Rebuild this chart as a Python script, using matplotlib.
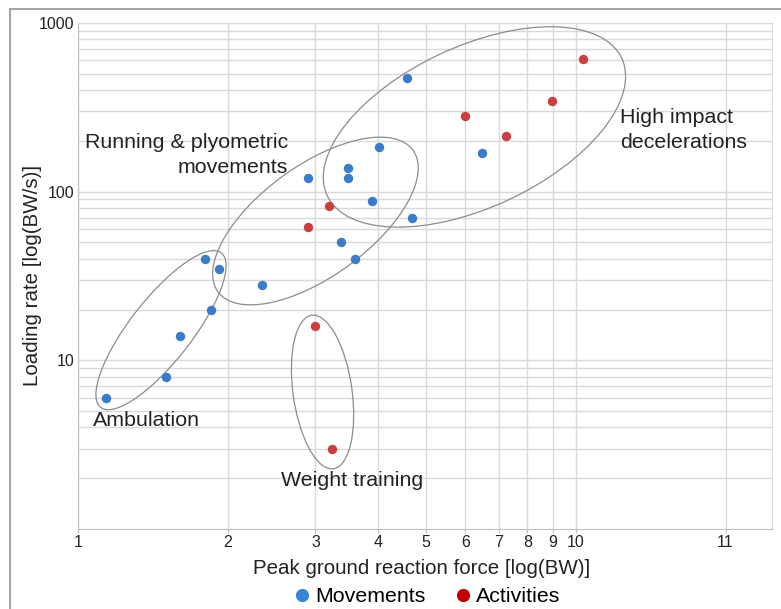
import matplotlib
matplotlib.use("Agg")
import matplotlib.pyplot as plt
import matplotlib.transforms as mtransforms
from matplotlib.patches import Ellipse, Rectangle
from matplotlib.lines import Line2D

plt.rcParams["font.family"] = ["Liberation Sans", "DejaVu Sans"]

# Peak ground reaction force (BW) and loading rate (BW/s)
movements_force = [1.14, 1.50, 1.60, 1.85, 1.80, 1.92, 2.34, 2.90, 3.49, 3.49,
                   4.02, 3.90, 3.38, 3.60, 4.59, 4.68, 6.48]
movements_rate = [6.0, 8.0, 14, 20, 40, 35, 28, 120, 139, 120,
                  184, 88, 50, 40, 474, 70, 170]

activities_force = [2.90, 3.19, 2.99, 3.24, 6.0, 7.25, 8.96, 10.34]
activities_rate = [62, 82, 16, 3.0, 282, 214, 346, 612]

x_ticks = [1, 2, 3, 4, 5, 6, 7, 8, 9, 10, 20]
x_tick_labels = ["1", "2", "3", "4", "5", "6", "7", "8", "9", "10", "11"]
y_ticks = [10, 100, 1000]
y_tick_labels = ["10", "100", "1000"]

# Group outlines: label, centre (force, rate), width/height in pixels, angle
groups = [
    ("Ambulation", (1.468, 15.1), 196, 62, 52),
    ("Running & plyometric movements", (3.0, 67), 241, 111, 36),
    ("High impact decelerations", (6.26, 242), 325, 161, 25),
    ("Weight training", (3.10, 6.49), 59, 155, 8),
]

BLUE = "#3b7cc8"
RED = "#c84040"
GRID = "#d9d9d9"
TEXT = "#222222"

W, H, DPI = 781, 609, 100
fig = plt.figure(figsize=(W / DPI, H / DPI), dpi=DPI)
ax = fig.add_axes([78 / W, 1 - 529 / H, (772 - 78) / W, (529 - 23) / H])

ax.set_xscale("log")
ax.set_yscale("log")
ax.set_xlim(1, 24.8)
ax.set_ylim(1, 1000)

ax.scatter(movements_force, movements_rate, s=46, color=BLUE, zorder=3,
           linewidths=0)
ax.scatter(activities_force, activities_rate, s=46, color=RED, zorder=3,
           linewidths=0)

# grid: vertical at labelled ticks, horizontal at every 1..9 per decade
ax.set_xticks(x_ticks)
ax.set_xticklabels(x_tick_labels)
ax.xaxis.set_minor_locator(matplotlib.ticker.NullLocator())
ax.set_yticks(y_ticks)
ax.set_yticklabels(y_tick_labels)
ax.yaxis.set_minor_locator(matplotlib.ticker.LogLocator(base=10, subs=range(2, 10)))
ax.yaxis.set_minor_formatter(matplotlib.ticker.NullFormatter())
ax.grid(True, which="major", color=GRID, linewidth=1.0)
ax.grid(True, which="minor", axis="y", color=GRID, linewidth=1.0)
ax.set_axisbelow(True)

ax.tick_params(axis="x", which="major", length=3, color="#bfbfbf",
               labelsize=11.5, labelcolor=TEXT, pad=1)
ax.tick_params(axis="y", which="both", length=0, labelsize=11.5,
               labelcolor=TEXT, pad=2.5)
for side in ("top", "right"):
    ax.spines[side].set_color(GRID)
for side in ("left", "bottom"):
    ax.spines[side].set_color("#bfbfbf")

# group outlines drawn with pixel sizes around a data-space centre
for label, (cx, cy), w, h, ang in groups:
    tr = fig.dpi_scale_trans + mtransforms.ScaledTranslation(cx, cy, ax.transData)
    ax.add_patch(Ellipse((0, 0), w / DPI, h / DPI, angle=ang, transform=tr,
                         fill=False, edgecolor="#8c8c8c", linewidth=0.9,
                         zorder=2))

ann = dict(fontsize=15.4, color=TEXT, transform=fig.transFigure)
fig.text(288 / W, 1 - 155 / H, "Running & plyometric\nmovements",
         ha="right", va="center", linespacing=1.4, multialignment="right", **ann)
fig.text(620 / W, 1 - 130 / H, "High impact\ndecelerations",
         ha="left", va="center", linespacing=1.4, **ann)
fig.text(93 / W, 1 - 421 / H, "Ambulation", ha="left", va="center", **ann)
fig.text(281 / W, 1 - 480 / H, "Weight training", ha="left", va="center", **ann)

ax.set_xlabel("Peak ground reaction force [log(BW)]", fontsize=14.8,
              color=TEXT, va="center")
ax.xaxis.set_label_coords((422 - 78) / 694, -(568 - 529) / 506)
ax.set_ylabel("Loading rate [log(BW/s)]", fontsize=14.8, color=TEXT,
              va="center")
ax.yaxis.set_label_coords(-(78 - 33) / 694, (529 - 275) / 506)

handles = [
    Line2D([], [], marker="o", linestyle="", color="#3a86d6", markersize=9.5,
           markeredgewidth=0, label="Movements"),
    Line2D([], [], marker="o", linestyle="", color="#c00000", markersize=9.5,
           markeredgewidth=0, label="Activities"),
]
fig.legend(handles=handles, loc="center", bbox_to_anchor=(426 / W, 1 - 597 / H),
           ncol=2, frameon=False, fontsize=15.4, handletextpad=0.12,
           columnspacing=1.25, handlelength=1.0, borderaxespad=0)

# outer frame
fig.patches.append(Rectangle((10 / W, -0.01), 1.0, 1 - 9 / H + 0.01,
                             transform=fig.transFigure, fill=False,
                             edgecolor="#a6a6a6", linewidth=1.5))

fig.savefig("out.png", dpi=DPI)
